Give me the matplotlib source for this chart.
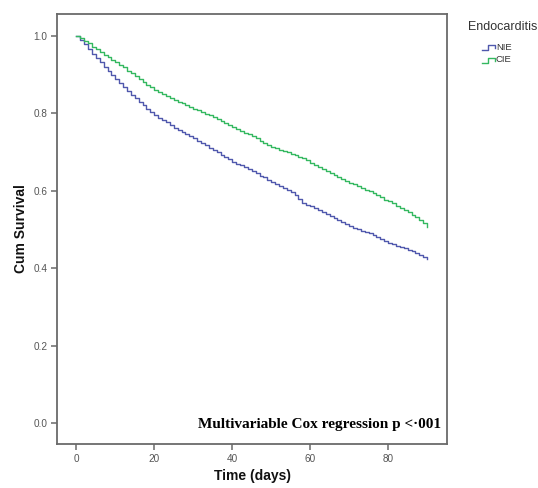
import matplotlib
matplotlib.use("Agg")
import matplotlib.pyplot as plt
from matplotlib.lines import Line2D

days = list(range(0, 91))

nie_survival = [
    1.000, 0.990, 0.978, 0.966, 0.954, 0.942,
    0.931, 0.920, 0.909, 0.898, 0.888,
    0.878, 0.868, 0.858, 0.848, 0.838,
    0.829, 0.820, 0.812, 0.803, 0.795,
    0.788, 0.782, 0.776, 0.769, 0.763,
    0.757, 0.752, 0.746, 0.741, 0.735,
    0.729, 0.723, 0.717, 0.711, 0.705,
    0.699, 0.693, 0.687, 0.681, 0.675,
    0.670, 0.665, 0.660, 0.655, 0.650,
    0.645, 0.639, 0.634, 0.628, 0.623,
    0.618, 0.612, 0.607, 0.601, 0.596,
    0.588, 0.578, 0.568, 0.564, 0.560,
    0.555, 0.550, 0.545, 0.540, 0.535,
    0.530, 0.524, 0.519, 0.513, 0.508,
    0.504, 0.501, 0.497, 0.494, 0.490,
    0.485, 0.480, 0.476, 0.471, 0.466,
    0.462, 0.458, 0.455, 0.451, 0.447,
    0.443, 0.438, 0.434, 0.429, 0.424,
]

cie_survival = [
    1.000, 0.995, 0.987, 0.980, 0.972, 0.965,
    0.958, 0.951, 0.945, 0.938, 0.932,
    0.925, 0.918, 0.910, 0.903, 0.895,
    0.888, 0.881, 0.874, 0.867, 0.860,
    0.855, 0.850, 0.845, 0.840, 0.835,
    0.830, 0.826, 0.821, 0.817, 0.812,
    0.808, 0.804, 0.799, 0.795, 0.790,
    0.785, 0.780, 0.775, 0.770, 0.765,
    0.760, 0.755, 0.750, 0.745, 0.740,
    0.735, 0.729, 0.724, 0.718, 0.713,
    0.709, 0.706, 0.702, 0.699, 0.695,
    0.692, 0.688, 0.683, 0.678, 0.672,
    0.667, 0.661, 0.656, 0.650, 0.645,
    0.640, 0.635, 0.630, 0.625, 0.620,
    0.616, 0.611, 0.607, 0.602, 0.598,
    0.593, 0.588, 0.583, 0.577, 0.572,
    0.567, 0.561, 0.556, 0.550, 0.545,
    0.538, 0.531, 0.524, 0.516, 0.507,
]

series_names = ["NIE", "CIE"]
series_colors = ["#5058ad", "#34b860"]
x_ticks = [0, 20, 40, 60, 80]
y_ticks = [0.0, 0.2, 0.4, 0.6, 0.8, 1.0]

W, H = 538, 488
fig = plt.figure(figsize=(W / 100, H / 100), dpi=100)
ax = fig.add_axes([57 / W, 1 - 444 / H, 390 / W, 430 / H])

for vals, col in zip([nie_survival, cie_survival], series_colors):
    ax.plot(days, vals, drawstyle="steps-post", color=col, lw=1.0)

ax.set_xlim(-4.96, 95.1)
ax.set_ylim(-0.054, 1.056)
ax.set_xticks(x_ticks)
ax.set_xticklabels([str(t) for t in x_ticks])
ax.set_yticks(y_ticks)
ax.set_yticklabels([f"{t:.1f}" for t in y_ticks])

for s in ax.spines.values():
    s.set_color("#6a6a6a")
    s.set_linewidth(1.3)

ax.tick_params(axis="both", direction="out", length=4, width=1.1,
               color="#6a6a6a", labelcolor="#555555", labelsize=7.2,
               pad=3)
for lbl in ax.get_xticklabels() + ax.get_yticklabels():
    lbl.set_family("Liberation Sans")

ax.set_xlabel("Time (days)", fontsize=10, fontweight="bold",
              family="Liberation Sans", color="#111111", labelpad=4)
ax.set_ylabel("Cum Survival", fontsize=10, fontweight="bold",
              family="Liberation Sans", color="#111111", labelpad=4)

ax.text(0.985, 0.03, "Multivariable Cox regression p <\u00b7001",
        transform=ax.transAxes, ha="right", va="bottom",
        fontsize=11, fontweight="bold", family="Liberation Serif",
        color="black")

# Legend drawn in SPSS style
fig.text(468 / W, 1 - 27 / H, "Endocarditis", ha="left", va="center",
         fontsize=9, family="Liberation Sans", color="#333333")
leg_y = [47, 60]
for name, col, yy in zip(series_names, series_colors, leg_y):
    xs = [482, 488, 488, 495, 495]
    ys = [yy + 2.5, yy + 2.5, yy - 2.5, yy - 2.5, yy + 0.5]
    fig.add_artist(Line2D([x / W for x in xs], [1 - y / H for y in ys],
                          color=col, lw=1.0, transform=fig.transFigure))
    fig.text(496 / W, 1 - yy / H, name, ha="left", va="center",
             fontsize=6.8, family="Liberation Sans", color="#333333")

fig.savefig("out.png", dpi=100)
